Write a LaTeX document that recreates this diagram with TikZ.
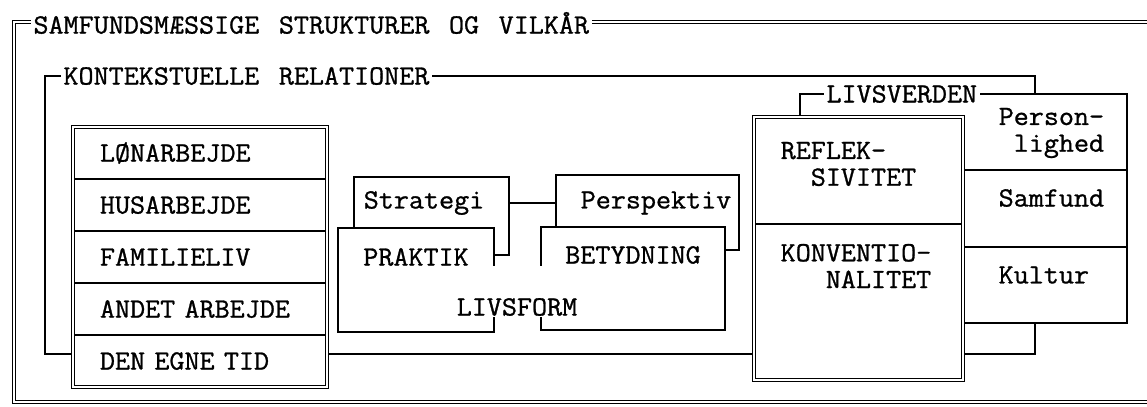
\documentclass[tikz,border=0pt]{standalone}
\usepackage{fontspec}
\setmonofont{Latin Modern Mono}[FakeStretch=1.05, FakeBold=1, WordSpace=1.3]
\usetikzlibrary{positioning}

\begin{document}
\begin{tikzpicture}[x=0.025cm, y=-0.025cm,
  font=\ttfamily\fontsize{19.8}{19}\selectfont, line width=1pt,
  row/.style={draw, fill=white, minimum width=6.35cm, minimum height=1.3cm,
    text width=5cm, align=left, inner sep=0pt, outer sep=0pt},
  frame/.style={draw, double, double distance=1.4pt, line width=0.75pt},
  tag/.style={fill=white, inner sep=2pt, anchor=west},
  txt/.style={inner sep=0pt, align=left, anchor=west}]

\path[use as bounding box, fill=white] (0,0) rectangle (1147,407);

% outer and inner frames
\draw[frame] (1150,22) -- (14,22) -- (14,402) -- (1150,402);
\draw (45,76) rectangle (1035,354);
\draw[fill=white] (800,94) rectangle (1127,323);
\draw (962,170) -- (1127,170);
\draw (962,247) -- (1127,247);

% livsverden
\node (R) at (858.5,171) [draw, fill=white, minimum width=5.175cm, minimum height=2.65cm]{};
\node (K) at (858.5,301.5) [draw, fill=white, minimum width=5.175cm, minimum height=3.875cm]{};
\draw[frame] (R.north west) rectangle (K.south east);
\node (RT) at (780,164) [txt]{REFLEK-\\\phantom{XX}SIVITET};
\node (KT) at (780,266) [txt]{KONVENTIO-\\\phantom{XXX}NALITET};
\node (PT) at (998,133) [txt]{Person-\\\phantom{X}lighed};
\node (ST) at (998,198) [txt]{Samfund};
\node (KU) at (998,275) [txt]{Kultur};

% left stack
\node (LON) at (200,153) [row]{LØNARBEJDE};
\node (HUS) [row, below=0pt of LON]{HUSARBEJDE};
\node (FAM) [row, below=0pt of HUS]{FAMILIELIV};
\node (AND) [row, below=0pt of FAM]{ANDET ARBEJDE};
\node (EGN) [row, below=0pt of AND]{DEN EGNE TID};
\draw[frame] (LON.north west) rectangle (EGN.south east);

% livsform
\node (SB) at (431.5,216) [draw, minimum width=3.875cm, minimum height=1.95cm]{};
\node (PB) at (647.5,212.5) [draw, minimum width=4.575cm, minimum height=1.875cm]{};
\node (S) at (424,203){Strategi};
\node (P) at (656,203){Perspektiv};
\draw (SB.east |- S) -- (PB.west |- S);
\node (PR) at (416,280) [draw, fill=white, minimum width=3.9cm, minimum height=2.6cm]{};
\node (BE) at (633,278.5) [draw, fill=white, minimum width=4.6cm, minimum height=2.575cm]{};
\fill[white] (492,266) rectangle (543,317);
\node (PRA) at (416,257){PRAKTIK};
\node (BET) at (633,255){BETYDNING};
\node (LF) at (517,307){LIVSFORM};

% frame labels
\node (TI) at (30,23) [tag]{SAMFUNDSMÆSSIGE STRUKTURER OG VILKÅR};
\node (KR) at (60,76) [tag]{KONTEKSTUELLE RELATIONER};
\node (LV) at (823,94) [tag]{LIVSVERDEN};

\end{tikzpicture}
\end{document}
